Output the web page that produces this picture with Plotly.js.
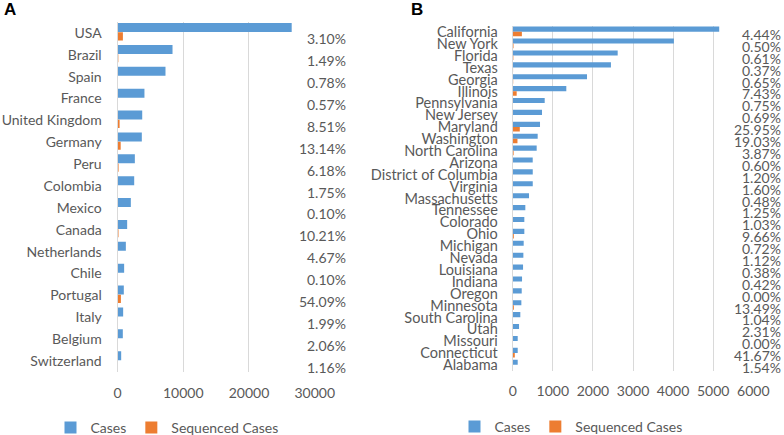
<!DOCTYPE html>
<html>
<head>
<meta charset="utf-8">
<script src="https://cdn.plot.ly/plotly-3.0.1.min.js"></script>
<style>html,body{margin:0;padding:0;background:#fff;}#chart{width:784px;height:435px;}</style>
</head>
<body>
<div id="chart"></div>
<script>
// Panel A: countries
const countriesA = ["USA","Brazil","Spain","France","United Kingdom","Germany","Peru","Colombia","Mexico","Canada","Netherlands","Chile","Portugal","Italy","Belgium","Switzerland"];
const casesA = [26500,8370,7300,4100,3760,3700,2640,2540,2030,1470,1270,1010,960,860,810,560];
const seqA = [822,125,57,23,320,486,163,44,2,150,59,1,519,17,17,6];
const pctA = ["3.10%","1.49%","0.78%","0.57%","8.51%","13.14%","6.18%","1.75%","0.10%","10.21%","4.67%","0.10%","54.09%","1.99%","2.06%","1.16%"];
const ticksA = [0,10000,20000,30000];

// Panel B: US states
const statesB = ["California","New York","Florida","Texas","Georgia","Illinois","Pennsylvania","New Jersey","Maryland","Washington","North Carolina","Arizona","District of Columbia","Virginia","Massachusetts","Tennessee","Colorado","Ohio","Michigan","Nevada","Louisiana","Indiana","Oregon","Minnesota","South Carolina","Utah","Missouri","Connecticut","Alabama"];
const casesB = [5150,4020,2618,2450,1853,1337,798,731,681,623,598,499,500,500,407,315,290,290,274,266,258,233,225,216,190,158,125,125,125];
const seqB = [229,20,16,9,12,99,6,5,177,119,23,3,6,8,2,4,3,28,2,3,1,1,0,29,2,4,0,52,2];
const pctB = ["4.44%","0.50%","0.61%","0.37%","0.65%","7.43%","0.75%","0.69%","25.95%","19.03%","3.87%","0.60%","1.20%","1.60%","0.48%","1.25%","1.03%","9.66%","0.72%","1.12%","0.38%","0.42%","0.00%","13.49%","1.04%","2.31%","0.00%","41.67%","1.54%"];
const ticksB = [0,1000,2000,3000,4000,5000,6000];

const BLUE = "#5B9BD5", ORANGE = "#ED7D31", GRID = "#D9D9D9", TXT = "#595959";
const FONT = "Lato, 'Open Sans', sans-serif";

const traces = [
  {type:"bar", orientation:"h", name:"Cases", x:casesA, y:countriesA, xaxis:"x", yaxis:"y",
   marker:{color:BLUE}, width:0.41, offset:-0.45, legend:"legend", hoverinfo:"skip"},
  {type:"bar", orientation:"h", name:"Sequenced Cases", x:seqA, y:countriesA, xaxis:"x", yaxis:"y",
   marker:{color:ORANGE}, width:0.37, offset:-0.03, legend:"legend", hoverinfo:"skip"},
  {type:"bar", orientation:"h", name:"Cases", x:casesB, y:statesB, xaxis:"x2", yaxis:"y2",
   marker:{color:BLUE}, width:0.43, offset:-0.45, legend:"legend2", hoverinfo:"skip"},
  {type:"bar", orientation:"h", name:"Sequenced Cases", x:seqB, y:statesB, xaxis:"x2", yaxis:"y2",
   marker:{color:ORANGE}, width:0.38, offset:-0.02, legend:"legend2", hoverinfo:"skip"}
];

const W = 784, H = 435;
const px = v => v / W, py = v => 1 - v / H;

const annotations = [];
countriesA.forEach((c, i) => annotations.push({
  xref:"paper", yref:"y", x:px(348), y:c, xanchor:"right", yanchor:"middle",
  text:pctA[i], showarrow:false, yshift:-6, font:{family:FONT, size:14, color:TXT}
}));
statesB.forEach((c, i) => annotations.push({
  xref:"paper", yref:"y2", x:px(783), y:c, xanchor:"right", yanchor:"middle",
  text:pctB[i], showarrow:false, yshift:-2.5, font:{family:FONT, size:14, color:TXT}
}));
annotations.push({xref:"paper", yref:"paper", x:px(2), y:py(10), xanchor:"left", yanchor:"middle",
  text:"<b>A</b>", showarrow:false, font:{family:"'Liberation Sans', Arial, sans-serif", size:17, color:"#000"}});
annotations.push({xref:"paper", yref:"paper", x:px(409), y:py(9), xanchor:"left", yanchor:"middle",
  text:"<b>B</b>", showarrow:false, font:{family:"'Liberation Sans', Arial, sans-serif", size:17, color:"#000"}});

const xBase = {showgrid:true, gridcolor:GRID, gridwidth:1, zeroline:false, showline:false,
  ticks:"", tickfont:{family:FONT, size:14, color:TXT}, fixedrange:true};
const yBase = {type:"category", showgrid:false, zeroline:false,
  showline:true, linecolor:GRID, linewidth:1, ticks:"", tickmode:"array",
  tickfont:{family:FONT, size:14, color:TXT}, fixedrange:true};

const layout = {
  width:W, height:H, margin:{l:0, r:0, t:0, b:0, autoexpand:false},
  paper_bgcolor:"#fff", plot_bgcolor:"rgba(0,0,0,0)",
  barmode:"overlay",
  font:{family:FONT, color:TXT},
  xaxis:Object.assign({}, xBase, {domain:[px(117.5), px(314.7)], range:[0,30000],
    tickmode:"array", tickvals:ticksA, ticktext:ticksA.map(String), anchor:"y", ticklabelstandoff:11}),
  yaxis:Object.assign({}, yBase, {domain:[py(372), py(22)], anchor:"x",
    categoryorder:"array", categoryarray:countriesA, tickvals:countriesA, ticktext:countriesA,
    range:[countriesA.length - 0.5, -0.5], ticklabelstandoff:12}),
  xaxis2:Object.assign({}, xBase, {domain:[px(512.7), px(753.3)], range:[0,6000],
    tickmode:"array", tickvals:ticksB, ticktext:ticksB.map(String), anchor:"y2", ticklabelstandoff:10}),
  yaxis2:Object.assign({}, yBase, {domain:[py(371), py(26)], anchor:"x2",
    categoryorder:"array", categoryarray:statesB, tickvals:statesB, ticktext:statesB,
    range:[statesB.length - 0.5, -0.5], ticklabelstandoff:11,
    tickfont:{family:FONT, size:14.5, color:TXT}}),
  showlegend:true,
  legend:{orientation:"h", x:px(167), xanchor:"center", y:py(428), yanchor:"middle",
    font:{family:FONT, size:14, color:TXT}, bgcolor:"rgba(0,0,0,0)", itemclick:false, traceorder:"normal"},
  legend2:{orientation:"h", x:px(571), xanchor:"center", y:py(427), yanchor:"middle",
    font:{family:FONT, size:14, color:TXT}, bgcolor:"rgba(0,0,0,0)", itemclick:false, traceorder:"normal"},
  annotations:annotations
};

Plotly.newPlot("chart", traces, layout, {staticPlot:true, displayModeBar:false});
</script>
</body>
</html>
